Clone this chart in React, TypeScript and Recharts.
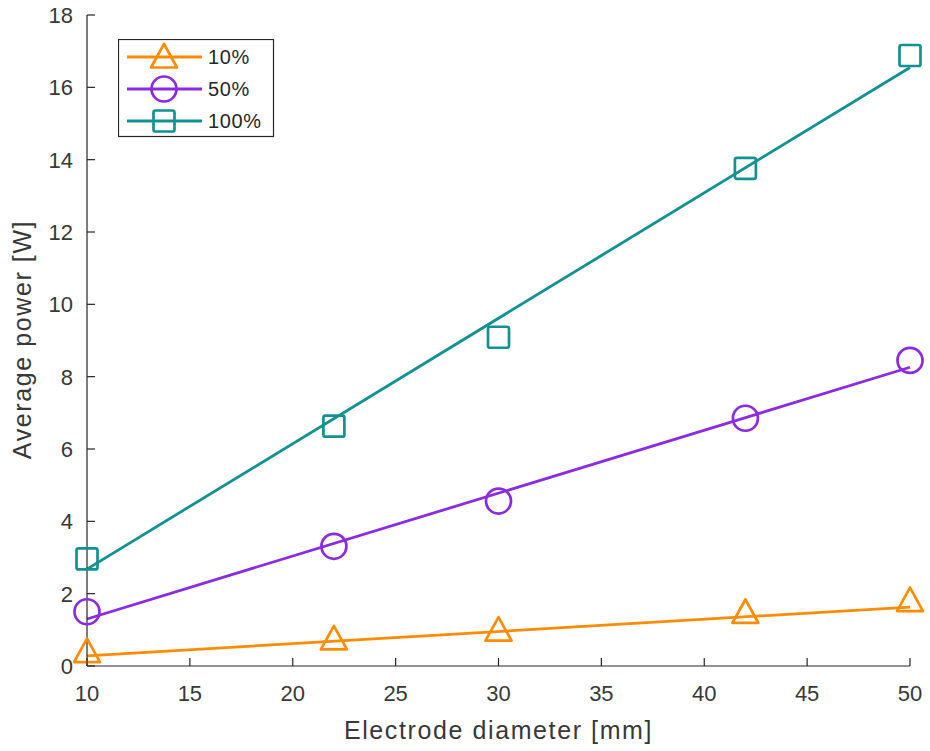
import {
  ComposedChart,
  Legend,
  Line,
  Scatter,
  XAxis,
  YAxis,
} from "recharts";

// measured diameters and average power per duty cycle
const diameters = [10, 22, 30, 42, 50];
const power10 = [0.4, 0.75, 0.99, 1.48, 1.81];
const power50 = [1.5, 3.31, 4.56, 6.85, 8.45];
const power100 = [2.96, 6.63, 9.09, 13.76, 16.88];

// linear fit lines, read at the ends of the range
const fitX = [10, 50];
const fit10 = [0.28, 1.63];
const fit50 = [1.3, 8.26];
const fit100 = [2.68, 16.55];

const xTicks = [10, 15, 20, 25, 30, 35, 40, 45, 50];
const yTicks = [0, 2, 4, 6, 8, 10, 12, 14, 16, 18];

const labels = ["10%", "50%", "100%"];
const colors = ["#ff8c00", "#8a2be2", "#129191"];

const AXIS = "#262626";
const FONT = "'Liberation Sans', Arial, sans-serif";

const toPoints = (xs: number[], ys: number[]) => xs.map((x, i) => ({ x, y: ys[i] }));

function Marker({ kind, cx, cy, color }: { kind: number; cx: number; cy: number; color: string }) {
  if (kind === 0)
    return (
      <polygon
        points={`${cx},${cy - 13} ${cx + 13},${cy + 10.5} ${cx - 13},${cy + 10.5}`}
        fill="none"
        stroke={color}
        strokeWidth={2.7}
        strokeLinejoin="round"
      />
    );
  if (kind === 1)
    return <circle cx={cx} cy={cy} r={12.5} fill="none" stroke={color} strokeWidth={2.7} />;
  return (
    <rect
      x={cx - 10.5}
      y={cy - 10.5}
      width={21}
      height={21}
      rx={2}
      fill="none"
      stroke={color}
      strokeWidth={2.7}
    />
  );
}

const YTick = (props: any) => {
  const { x, y, payload } = props;
  return (
    <g>
      <line x1={x} y1={y} x2={x + 8} y2={y} stroke={AXIS} strokeWidth={1.2} />
      <text x={x - 14} y={y} dy="0.36em" textAnchor="end" fontSize={22} fill="#383838" fontFamily={FONT}>
        {payload.value}
      </text>
    </g>
  );
};

const XTick = (props: any) => {
  const { x, y, payload } = props;
  return (
    <g>
      <line x1={x} y1={y} x2={x} y2={y - 8} stroke={AXIS} strokeWidth={1.2} />
      <text x={x} y={y + 35} textAnchor="middle" fontSize={22} fill="#383838" fontFamily={FONT}>
        {payload.value}
      </text>
    </g>
  );
};

const XLabel = (props: any) => {
  const { x, y, width } = props.viewBox;
  return (
    <text x={x + width / 2} y={y + 73} textAnchor="middle" fontSize={25} letterSpacing={1.6} fill="#383838" fontFamily={FONT}>
      Electrode diameter [mm]
    </text>
  );
};

const YLabel = (props: any) => {
  const { y, height } = props.viewBox;
  const cy = y + height / 2 - 1;
  return (
    <text
      x={31}
      y={cy}
      transform={`rotate(-90 31 ${cy})`}
      textAnchor="middle"
      fontSize={25}
      letterSpacing={1.6}
      fill="#383838"
      fontFamily={FONT}
    >
      Average power [W]
    </text>
  );
};

const LegendBox = () => (
  <svg width={157} height={99}>
    <rect x={0.5} y={0.5} width={155} height={97} fill="#fff" stroke={AXIS} strokeWidth={1.2} />
    {labels.map((name, i) => {
      const cy = 18 + i * 32;
      return (
        <g key={name}>
          <line x1={9} y1={cy} x2={84} y2={cy} stroke={colors[i]} strokeWidth={2.8} />
          <Marker kind={i} cx={46} cy={cy} color={colors[i]} />
          <text x={90} y={cy} dy="0.36em" fontSize={20} letterSpacing={0.6} fill="#262626" fontFamily={FONT}>
            {name}
          </text>
        </g>
      );
    })}
  </svg>
);

const points = [power10, power50, power100].map((p) => toPoints(diameters, p));
const fits = [fit10, fit50, fit100].map((f) => toPoints(fitX, f));

export default function App() {
  return (
    <div style={{ position: "absolute", left: 0, top: 0, background: "#fff" }}>
      <ComposedChart width={930} height={751} margin={{ top: 15, right: 20, bottom: 0, left: 0 }}>
        <XAxis
          type="number"
          dataKey="x"
          domain={[10, 50]}
          ticks={xTicks}
          height={85}
          stroke={AXIS}
          strokeWidth={1.2}
          tickLine={false}
          tickSize={0}
          tickMargin={0}
          tick={XTick}
          interval={0}
          label={XLabel}
        />
        <YAxis
          type="number"
          dataKey="y"
          domain={[0, 18]}
          ticks={yTicks}
          width={87}
          stroke={AXIS}
          strokeWidth={1.2}
          tickLine={false}
          tickSize={0}
          tickMargin={0}
          tick={YTick}
          interval={0}
          label={YLabel}
        />
        <Legend
          layout="vertical"
          align="center"
          verticalAlign="middle"
          content={LegendBox}
          wrapperStyle={{ position: "absolute", left: 118, top: 39, width: 157, height: 99 }}
        />
        {fits.map((d, i) => (
          <Line
            key={`fit-${i}`}
            data={d}
            dataKey="y"
            type="linear"
            stroke={colors[i]}
            strokeWidth={2.8}
            dot={false}
            activeDot={false}
            legendType="none"
            isAnimationActive={false}
          />
        ))}
        {points.map((d, i) => (
          <Scatter
            key={`pts-${i}`}
            data={d}
            dataKey="y"
            name={labels[i]}
            fill={colors[i]}
            shape={(p: any) => <Marker kind={i} cx={p.cx} cy={p.cy} color={colors[i]} />}
            isAnimationActive={false}
          />
        ))}
      </ComposedChart>
    </div>
  );
}
